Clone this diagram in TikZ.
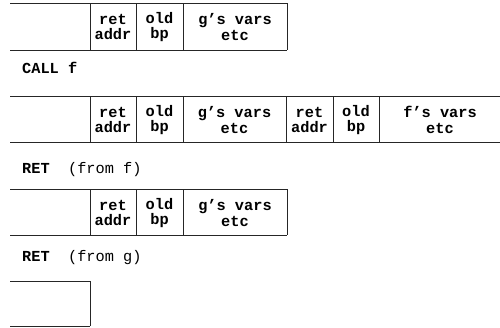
\documentclass[tikz,border=0pt]{standalone}
\usepackage{fontspec}
\setmonofont{Liberation Mono}
\begin{document}
\begin{tikzpicture}[x=1pt,y=-1pt,
  frameline/.style={line width=0.9pt,draw=black!85},
  cell/.style={font=\ttfamily\bfseries\fontsize{15.3}{15.3}\selectfont,align=center,inner sep=0pt},
  lbl/.style={font=\ttfamily\fontsize{15.3}{15.3}\selectfont,anchor=base west,inner sep=0pt}]
\useasboundingbox (0,0) rectangle (500,327);
% ---- row 1
\draw[frameline] (10,3) -- (287,3) (10,50) -- (287,50);
\foreach \x in {90,136,183,287} \draw[frameline] (\x,3) -- (\x,50);
\node[cell] (r1a) at (113,27) {ret\\addr};
\node[cell] (r1b) at (159.5,27) {old\\bp};
\node[cell] (r1c) at (235,27) {g’s vars\\etc};
\node[lbl] (call) at (22,73) {\bfseries CALL f};
% ---- row 2
\draw[frameline] (10,96) -- (500,96) (10,142) -- (500,142);
\foreach \x in {90,136,183,286,333,379} \draw[frameline] (\x,96) -- (\x,142);
\node[cell] (r2a) at (113,120) {ret\\addr};
\node[cell] (r2b) at (159.5,120) {old\\bp};
\node[cell] (r2c) at (234.5,120) {g’s vars\\etc};
\node[cell] (r2d) at (309.5,120) {ret\\addr};
\node[cell] (r2e) at (356,120) {old\\bp};
\node[cell] (r2f) at (440,120) {f’s vars\\etc};
\node[lbl] (retf) at (22,173) {\textbf{RET}\ \ (from f)};
% ---- row 3
\draw[frameline] (10,189) -- (287,189) (10,235) -- (287,235);
\foreach \x in {90,136,183,287} \draw[frameline] (\x,189) -- (\x,235);
\node[cell] (r3a) at (113,213) {ret\\addr};
\node[cell] (r3b) at (159.5,213) {old\\bp};
\node[cell] (r3c) at (235,213) {g’s vars\\etc};
\node[lbl] (retg) at (22,261) {\textbf{RET}\ \ (from g)};
% ---- row 4
\draw[frameline] (10,281) -- (90,281) -- (90,326);
\draw[frameline] (10,326) -- (90,326);
\end{tikzpicture}
\end{document}
